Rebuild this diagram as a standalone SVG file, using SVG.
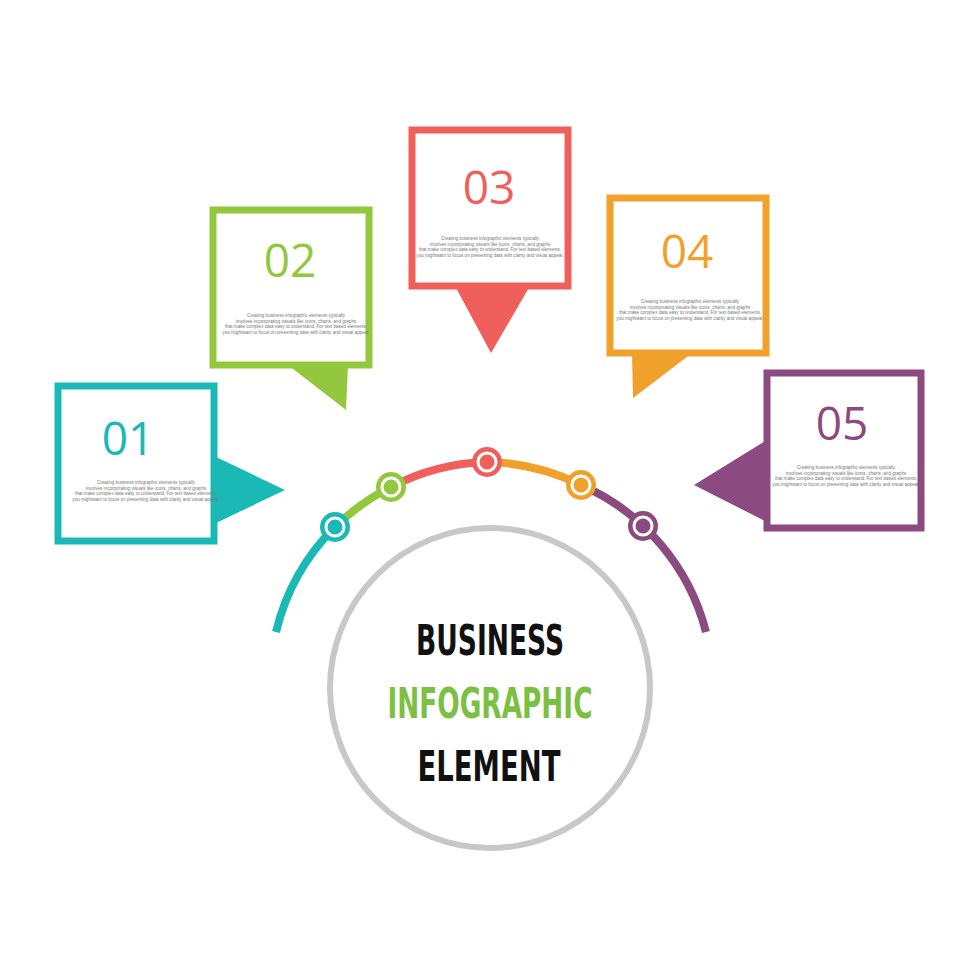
<svg xmlns="http://www.w3.org/2000/svg" width="980" height="980" viewBox="0 0 980 980">
<style>
.box{fill:#fff;stroke-width:7}
.num{font-family:"Open Sans","Liberation Sans",sans-serif;font-size:46px;text-anchor:middle}
.desc{font-family:"Liberation Sans",sans-serif;font-size:4.6px;fill:#777;text-anchor:middle}
.ttl{font-family:"DejaVu Sans Condensed","Liberation Sans",sans-serif;font-weight:bold;font-size:42px;text-anchor:middle}
.arc{fill:none;stroke-width:8}
.dot{stroke:#fff;stroke-width:3}
</style>
<rect width="980" height="980" fill="#fff"/>
<g id="connectors">
<path class="arc" stroke="#1ab9b5" d="M276,632 A220,220 0 0 1 335,527"/>
<path class="arc" stroke="#93c83e" d="M335,527 A220,220 0 0 1 391,487"/>
<path class="arc" stroke="#ef5f5c" d="M391,487 A220,220 0 0 1 487,462"/>
<path class="arc" stroke="#f0a12b" d="M487,462 A220,220 0 0 1 581,485"/>
<path class="arc" stroke="#8b4a80" d="M581,485 A220,220 0 0 1 706,632"/>
<g><circle cx="335" cy="527" r="15" fill="#1ab9b5"/><circle class="dot" cx="335" cy="527" r="9" fill="#1ab9b5"/></g>
<g><circle cx="391" cy="487" r="15" fill="#93c83e"/><circle class="dot" cx="391" cy="487" r="9" fill="#93c83e"/></g>
<g><circle cx="487" cy="462" r="15" fill="#ef5f5c"/><circle class="dot" cx="487" cy="462" r="9" fill="#ef5f5c"/></g>
<g><circle cx="581" cy="485" r="15" fill="#f0a12b"/><circle class="dot" cx="581" cy="485" r="9" fill="#f0a12b"/></g>
<g><circle cx="643" cy="526" r="15" fill="#8b4a80"/><circle class="dot" cx="643" cy="526" r="9" fill="#8b4a80"/></g>
</g>
<g id="node1">
<polygon points="214,456 285,490 214,524" fill="#1ab9b5"/>
<rect class="box" x="58" y="386" width="156" height="155" stroke="#1ab9b5"/>
<text class="num" x="128" y="455" fill="#1ab9b5">01</text>
<text class="desc" x="146" y="484"><tspan x="146">Creating business infographic elements typically</tspan><tspan x="146" dy="5.5">involves incorporating visuals like icons, charts, and graphs</tspan><tspan x="146" dy="5.5">that make complex data easy to understand. For text based elements,</tspan><tspan x="146" dy="5.5">you mightwant to focus on presenting data with clarity and visual appeal.</tspan></text>
</g>
<g id="node2">
<polygon points="288,365 348,365 346,410" fill="#93c83e"/>
<rect class="box" x="213" y="210" width="156" height="155" stroke="#93c83e"/>
<text class="num" x="290" y="277" fill="#93c83e">02</text>
<text class="desc" x="296" y="317"><tspan x="296">Creating business infographic elements typically</tspan><tspan x="296" dy="5.5">involves incorporating visuals like icons, charts, and graphs</tspan><tspan x="296" dy="5.5">that make complex data easy to understand. For text based elements,</tspan><tspan x="296" dy="5.5">you mightwant to focus on presenting data with clarity and visual appeal.</tspan></text>
</g>
<g id="node3">
<polygon points="455,286 530,286 491,353" fill="#ef5f5c"/>
<rect class="box" x="412" y="130" width="156" height="156" stroke="#ef5f5c"/>
<text class="num" x="489" y="204" fill="#ef5f5c">03</text>
<text class="desc" x="490" y="240"><tspan x="490">Creating business infographic elements typically</tspan><tspan x="490" dy="5.5">involves incorporating visuals like icons, charts, and graphs</tspan><tspan x="490" dy="5.5">that make complex data easy to understand. For text based elements,</tspan><tspan x="490" dy="5.5">you mightwant to focus on presenting data with clarity and visual appeal.</tspan></text>
</g>
<g id="node4">
<polygon points="632,353 692,353 633,398" fill="#f0a12b"/>
<rect class="box" x="610" y="198" width="156" height="155" stroke="#f0a12b"/>
<text class="num" x="687" y="268" fill="#f0a12b">04</text>
<text class="desc" x="690" y="303"><tspan x="690">Creating business infographic elements typically</tspan><tspan x="690" dy="5.5">involves incorporating visuals like icons, charts, and graphs</tspan><tspan x="690" dy="5.5">that make complex data easy to understand. For text based elements,</tspan><tspan x="690" dy="5.5">you mightwant to focus on presenting data with clarity and visual appeal.</tspan></text>
</g>
<g id="node5">
<polygon points="767,440 694,485 767,522" fill="#8b4a80"/>
<rect class="box" x="767" y="373" width="154" height="155" stroke="#8b4a80"/>
<text class="num" x="842" y="440" fill="#8b4a80">05</text>
<text class="desc" x="846" y="469"><tspan x="846">Creating business infographic elements typically</tspan><tspan x="846" dy="5.5">involves incorporating visuals like icons, charts, and graphs</tspan><tspan x="846" dy="5.5">that make complex data easy to understand. For text based elements,</tspan><tspan x="846" dy="5.5">you mightwant to focus on presenting data with clarity and visual appeal.</tspan></text>
</g>
<g id="center">
<circle cx="490" cy="688" r="160" fill="#fff" stroke="#c8c8c8" stroke-width="6"/>
<text class="ttl" x="490" y="655" fill="#111" textLength="148" lengthAdjust="spacingAndGlyphs">BUSINESS</text>
<text class="ttl" x="490" y="718" fill="#7bbf43" textLength="205" lengthAdjust="spacingAndGlyphs">INFOGRAPHIC</text>
<text class="ttl" x="489" y="781" fill="#111" textLength="143" lengthAdjust="spacingAndGlyphs">ELEMENT</text>
</g>
</svg>
